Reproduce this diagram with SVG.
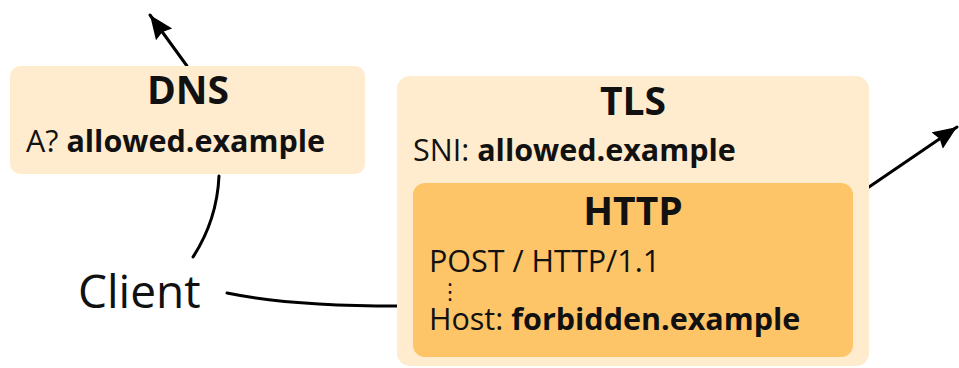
<svg xmlns="http://www.w3.org/2000/svg" width="959" height="368" viewBox="0 0 959 368">
  <defs>
    <marker id="arrowhead" markerUnits="userSpaceOnUse" markerWidth="26" markerHeight="22" refX="24" refY="10" orient="auto">
      <path d="M0,0 L24,10 L0,20 L3,10 Z" fill="#000"/>
    </marker>
    <style>
      .outer { fill: #ffebcd; }
      .inner { fill: #fdc468; }
      text { font-family: "Open Sans", "Noto Sans", "DejaVu Sans", sans-serif; fill: #111; }
      .title { font-size: 39px; font-weight: bold; text-anchor: middle; }
      .line { font-size: 30.5px; }
      .b { font-weight: bold; }
      .dots { font-family: "DejaVu Sans", sans-serif; font-size: 22px; }
      .client { font-size: 46px; }
      .edge { fill: none; stroke: #000; stroke-width: 3; stroke-linecap: round; }
    </style>
  </defs>
  <rect width="959" height="368" fill="#fff"/>

  <g id="connectors">
    <path class="edge" d="M187,66 L150,15" marker-end="url(#arrowhead)"/>
    <path class="edge" d="M869,187 L957,127" marker-end="url(#arrowhead)"/>
    <path class="edge" d="M193,257 Q217,220 219,176"/>
    <path class="edge" d="M227,293 Q290,306 398,306"/>
  </g>

  <g id="dns">
    <rect class="outer" x="10" y="66" width="355" height="108" rx="10"/>
    <text class="title" x="188" y="104">DNS</text>
    <text class="line" x="26" y="152">A? <tspan class="b">allowed.example</tspan></text>
  </g>

  <g id="tls">
    <rect class="outer" x="397" y="76" width="472" height="290" rx="13"/>
    <text class="title" x="633" y="115">TLS</text>
    <text class="line" x="413" y="161">SNI: <tspan class="b">allowed.example</tspan></text>
  </g>

  <g id="http">
    <rect class="inner" x="413" y="183" width="440" height="174" rx="12"/>
    <text class="title" x="633" y="225">HTTP</text>
    <text class="line" x="429" y="272">POST / HTTP/1.1</text>
    <text class="dots" x="439" y="299">⋮</text>
    <text class="line" x="429" y="330">Host: <tspan class="b">forbidden.example</tspan></text>
  </g>

  <g id="client">
    <text class="client" x="78" y="308">Client</text>
  </g>
</svg>
